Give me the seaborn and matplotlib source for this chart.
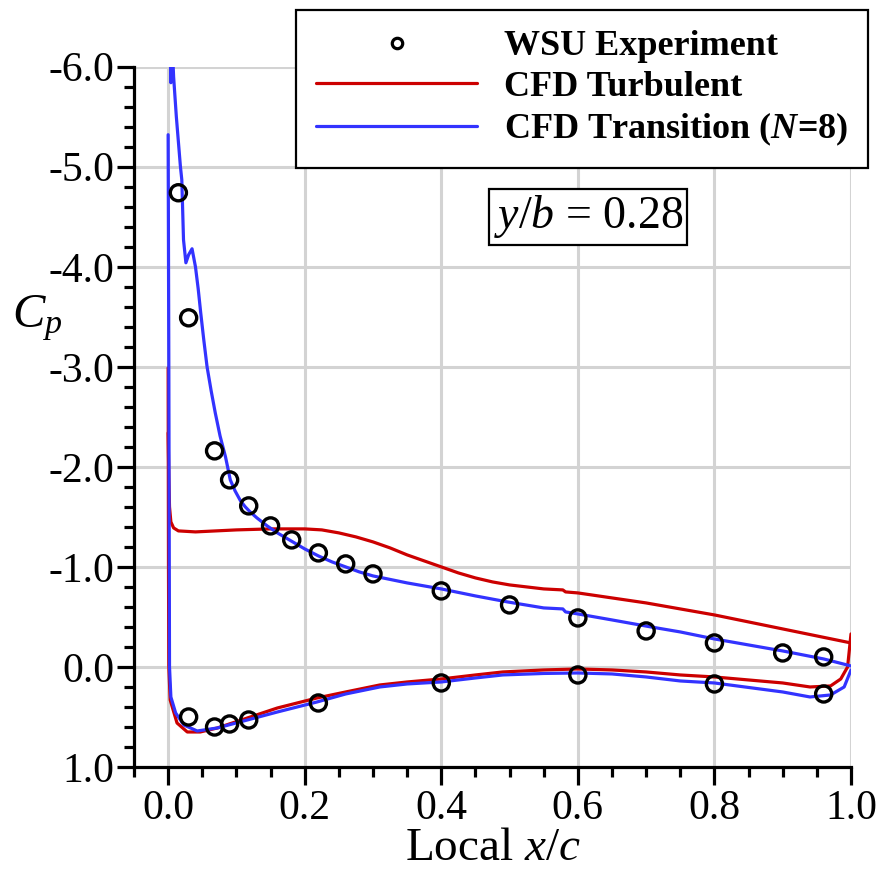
import numpy as np
import pandas as pd
import matplotlib
matplotlib.use("Agg")
import matplotlib.pyplot as plt
from matplotlib.ticker import MultipleLocator, FixedLocator, FormatStrFormatter
from matplotlib.lines import Line2D
import seaborn as sns

# ---- WSU wind-tunnel pressure taps ----
exp_upper_x = [0.015, 0.03, 0.068, 0.09, 0.118, 0.15, 0.181, 0.22, 0.26, 0.30,
               0.40, 0.50, 0.60, 0.70, 0.80, 0.90, 0.96]
exp_upper_cp = [-4.74, -3.49, -2.16, -1.87, -1.61, -1.41, -1.27, -1.14, -1.03, -0.93,
                -0.76, -0.62, -0.49, -0.36, -0.24, -0.14, -0.10]
exp_lower_x = [0.03, 0.068, 0.09, 0.118, 0.22, 0.40, 0.60, 0.80, 0.96]
exp_lower_cp = [0.50, 0.60, 0.57, 0.53, 0.36, 0.16, 0.08, 0.17, 0.27]

# ---- CFD, fully turbulent ----
turb_upper_x = [0.0, 0.001, 0.002, 0.004, 0.008, 0.015, 0.04, 0.10, 0.15, 0.20, 0.225,
                0.25, 0.275, 0.30, 0.325, 0.35, 0.375, 0.40, 0.425, 0.45, 0.475, 0.50,
                0.55, 0.578, 0.582, 0.60, 0.70, 0.80, 0.90, 1.0]
turb_upper_cp = [-2.34, -1.90, -1.60, -1.45, -1.39, -1.36, -1.35, -1.37, -1.38, -1.38,
                 -1.37, -1.34, -1.30, -1.25, -1.19, -1.12, -1.06, -1.00, -0.94, -0.89,
                 -0.85, -0.82, -0.78, -0.77, -0.75, -0.74, -0.64, -0.52, -0.38, -0.24]
turb_lower_x = [0.0, 0.0005, 0.001, 0.003, 0.013, 0.028, 0.047, 0.072, 0.116, 0.16,
                0.218, 0.26, 0.31, 0.35, 0.40, 0.45, 0.49, 0.55, 0.60, 0.65, 0.70,
                0.75, 0.80, 0.90, 0.94, 0.97, 0.985, 0.995, 1.0]
turb_lower_cp = [-2.99, -1.00, 0.00, 0.33, 0.56, 0.65, 0.65, 0.61, 0.51, 0.41,
                 0.31, 0.25, 0.18, 0.15, 0.12, 0.08, 0.05, 0.03, 0.02, 0.03, 0.05,
                 0.08, 0.10, 0.16, 0.20, 0.19, 0.12, 0.00, -0.33]

# ---- CFD, transition model (N=8) ----
tran_upper_x = [0.0025, 0.0040, 0.0055, 0.008, 0.012, 0.018, 0.020, 0.0225, 0.026,
                0.030, 0.035, 0.040, 0.044, 0.0477, 0.052, 0.057, 0.063, 0.069, 0.076,
                0.084, 0.091, 0.098, 0.106, 0.113, 0.12, 0.13, 0.145, 0.16, 0.18, 0.20,
                0.22, 0.24, 0.26, 0.28, 0.30, 0.35, 0.40, 0.45, 0.497, 0.55, 0.578,
                0.582, 0.60, 0.65, 0.707, 0.75, 0.80, 0.90, 0.96, 1.0]
tran_upper_cp = [-6.30, -5.84, -6.30, -5.90, -5.50, -5.00, -4.87, -4.27, -4.04,
                 -4.12, -4.18, -4.00, -3.78, -3.54, -3.28, -3.00, -2.76, -2.54, -2.31,
                 -2.10, -1.87, -1.76, -1.66, -1.60, -1.55, -1.49, -1.41, -1.34, -1.26,
                 -1.18, -1.11, -1.05, -1.00, -0.95, -0.91, -0.84, -0.78, -0.71, -0.65,
                 -0.59, -0.58, -0.55, -0.53, -0.47, -0.40, -0.35, -0.28, -0.16, -0.08,
                 -0.01]
tran_lower_x = [0.0, 0.001, 0.002, 0.004, 0.011, 0.023, 0.0425, 0.072, 0.116, 0.16,
                0.218, 0.26, 0.31, 0.35, 0.40, 0.45, 0.49, 0.55, 0.60, 0.65, 0.70,
                0.75, 0.80, 0.90, 0.94, 0.97, 0.99, 1.0]
tran_lower_cp = [-5.32, -3.00, 0.00, 0.30, 0.46, 0.58, 0.64, 0.61, 0.53, 0.45,
                 0.35, 0.27, 0.20, 0.17, 0.15, 0.11, 0.08, 0.065, 0.06, 0.07, 0.10,
                 0.14, 0.16, 0.25, 0.30, 0.28, 0.20, 0.03]

x_major = [0.0, 0.2, 0.4, 0.6, 0.8, 1.0]
y_major = [-6.0, -5.0, -4.0, -3.0, -2.0, -1.0, 0.0, 1.0]

RED = "#cc0000"
BLUE = "#3333ff"
GRID = "#d3d3d3"

sns.set_theme(style="white")
plt.rcParams.update({
    "font.family": ["Liberation Serif", "DejaVu Serif"],
    "mathtext.fontset": "custom",
    "mathtext.rm": "Liberation Serif",
    "mathtext.it": "Liberation Serif:italic",
    "mathtext.bf": "Liberation Serif:bold",
    "mathtext.bfit": "Liberation Serif:italic:bold",
    "axes.unicode_minus": False,
    "text.color": "black",
    "axes.labelcolor": "black",
    "xtick.color": "black",
    "ytick.color": "black",
})

fig = plt.figure(figsize=(8.8, 8.73), dpi=100)
ax = fig.add_axes([134 / 880, 106 / 873, 717 / 880, 700.3 / 873])

curves = [
    (turb_upper_x, turb_upper_cp, RED),
    (turb_lower_x, turb_lower_cp, RED),
    (tran_upper_x, tran_upper_cp, BLUE),
    (tran_lower_x, tran_lower_cp, BLUE),
]
for xs, cps, col in curves:
    df = pd.DataFrame({"x": xs, "cp": cps})
    sns.lineplot(data=df, x="x", y="cp", sort=False, estimator=None,
                 color=col, linewidth=2.3, ax=ax, zorder=3)

exp = pd.DataFrame({"x": exp_upper_x + exp_lower_x,
                    "cp": exp_upper_cp + exp_lower_cp})
sns.scatterplot(data=exp, x="x", y="cp", marker="o", s=135,
                facecolors="none", edgecolors="black", linewidth=2.4,
                ax=ax, zorder=4)

ax.set_xlim(-0.05, 1.0)
ax.set_ylim(1.0, -6.0)

ax.xaxis.set_major_locator(FixedLocator(x_major))
ax.xaxis.set_minor_locator(MultipleLocator(0.05))
ax.yaxis.set_major_locator(FixedLocator(y_major))
ax.yaxis.set_minor_locator(MultipleLocator(0.2))
ax.xaxis.set_major_formatter(FormatStrFormatter("%.1f"))
ax.yaxis.set_major_formatter(FormatStrFormatter("%.1f"))

ax.grid(True, which="major", color=GRID, linewidth=2.2)
ax.set_axisbelow(True)

for side in ("top", "right"):
    ax.spines[side].set_visible(False)
for side in ("left", "bottom"):
    ax.spines[side].set_color("black")
    ax.spines[side].set_linewidth(2.3)

ax.tick_params(which="major", direction="out", length=12, width=2.3,
               color="black", labelcolor="black", labelsize=30, pad=2,
               left=True, bottom=True)
ax.tick_params(which="minor", direction="out", length=7.5, width=2.3,
               color="black", left=True, bottom=True)
ax.tick_params(axis="x", which="major", length=13, pad=3)

ax.set_xlabel("Local $x/c$", fontsize=34, labelpad=0, color="black")
ax.set_ylabel("$C_p$", fontsize=35, rotation=0, labelpad=0, color="black")
ax.yaxis.set_label_coords(-0.135, 0.605)

ax.text(0.615, -4.5, "$y/b$ = 0.28", fontsize=33, ha="center", va="center",
        zorder=6, color="black",
        bbox=dict(boxstyle="square,pad=0.1", facecolor="white",
                  edgecolor="black", linewidth=1.6))

handles = [
    Line2D([], [], marker="o", linestyle="none", markerfacecolor="none",
           markeredgecolor="black", markersize=7.5, markeredgewidth=2.3),
    Line2D([], [], color=RED, linewidth=2.3),
    Line2D([], [], color=BLUE, linewidth=2.3),
]
labels = ["WSU Experiment", "CFD Turbulent", r"CFD Transition ($\mathbfit{N}$=8)"]
leg = fig.legend(handles, labels, loc="upper right",
                 bbox_to_anchor=(868 / 880, 1 - 10 / 873),
                 bbox_transform=fig.transFigure, borderaxespad=0,
                 prop={"family": "Liberation Serif", "weight": "bold", "size": 26},
                 handlelength=4.45, handletextpad=0.75, labelspacing=0.2,
                 borderpad=0.55, frameon=True, fancybox=False, framealpha=1)
leg.get_frame().set_edgecolor("black")
leg.get_frame().set_linewidth(1.6)
leg.set_zorder(10)
for t in leg.get_texts():
    t.set_color("black")

fig.savefig("out.png", dpi=100)
